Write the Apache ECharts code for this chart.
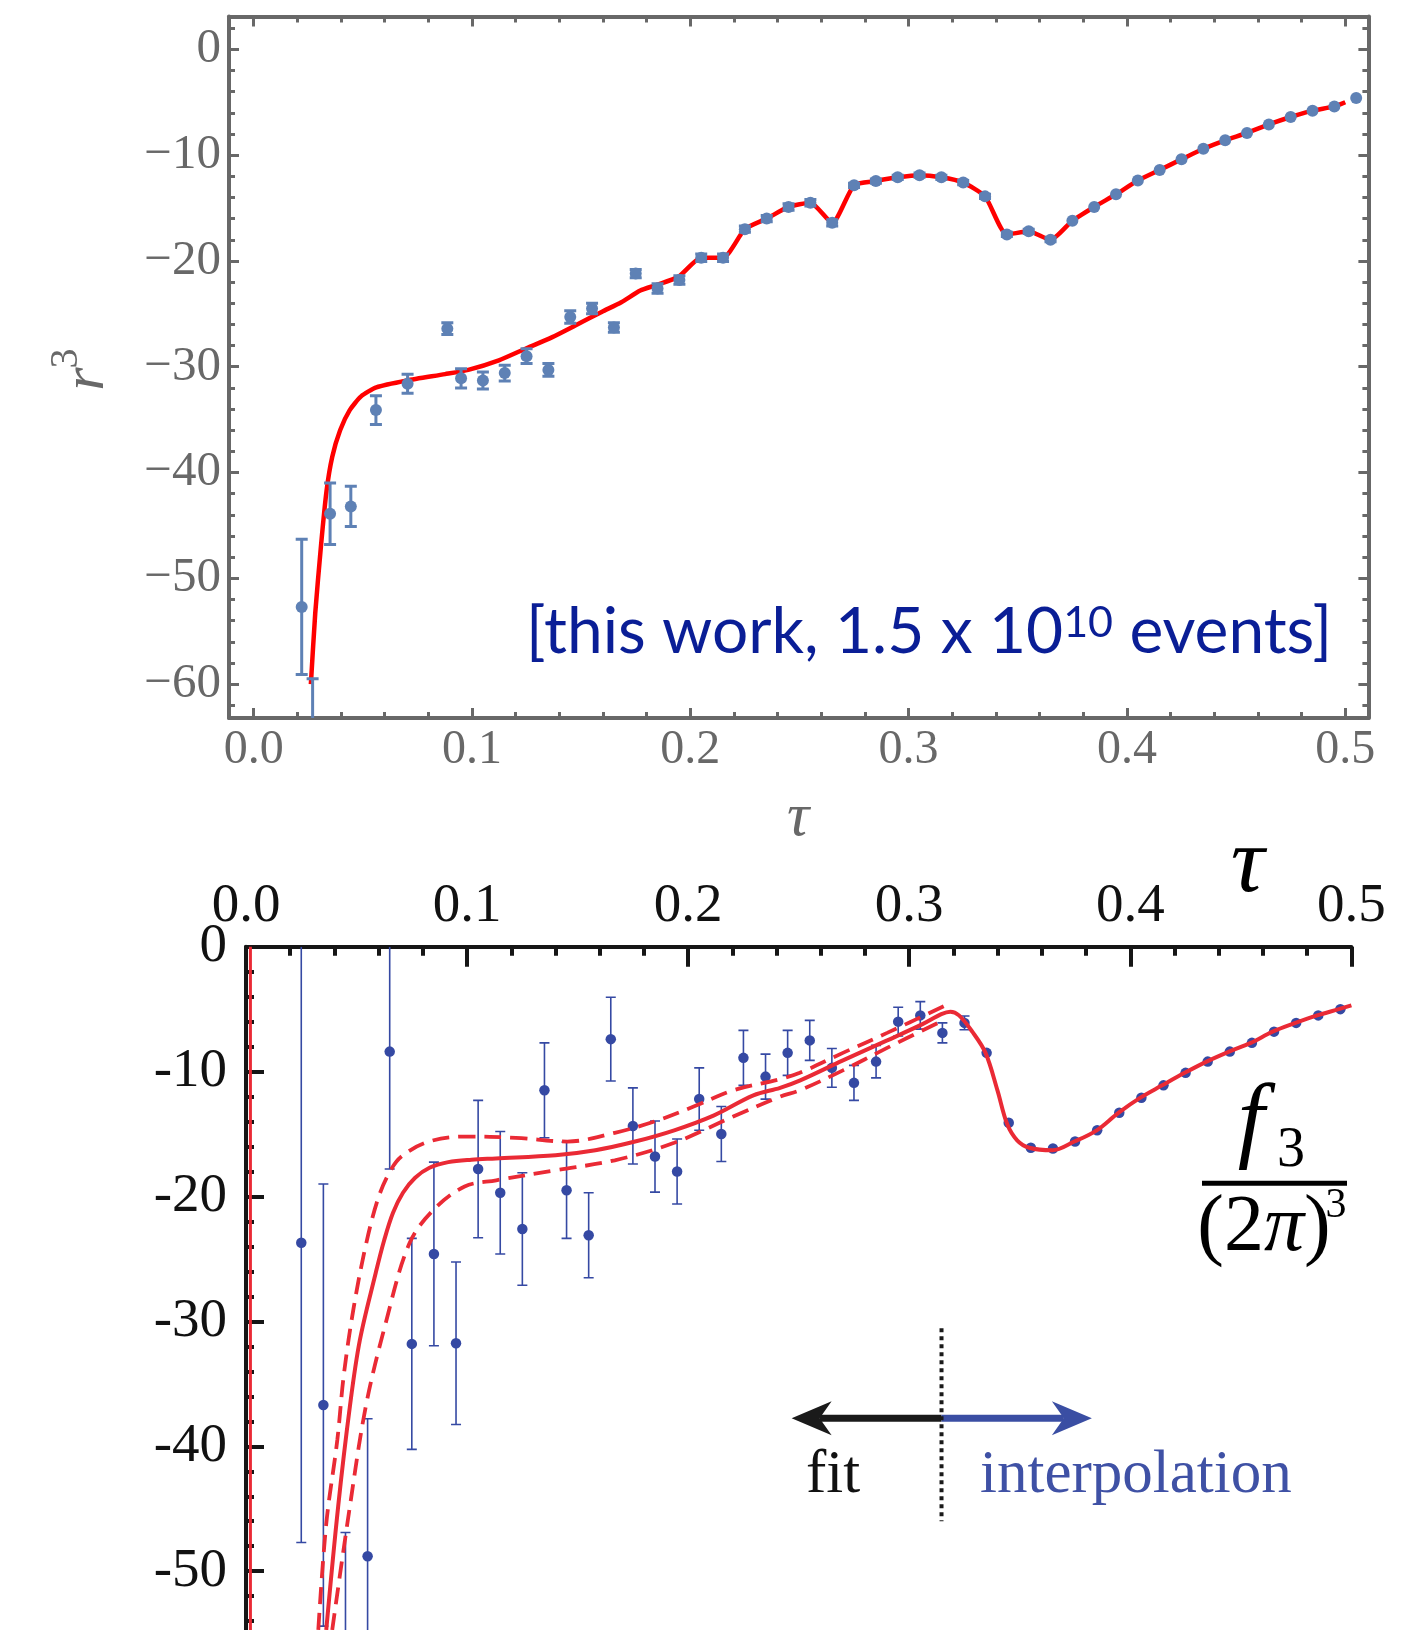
<!DOCTYPE html>
<html><head><meta charset="utf-8">
<script src="https://cdn.jsdelivr.net/npm/echarts@6/dist/echarts.min.js"></script>
<style>html,body{margin:0;padding:0;background:#fff}#c{width:1419px;height:1630px}</style>
</head><body><div id="c"></div>
<script>
// ---------- TOP PANEL DATA (r^3 vs tau) ----------
const topTau = [0.022, 0.027, 0.035, 0.0445, 0.056, 0.0705, 0.0887, 0.095, 0.105, 0.115, 0.125, 0.135, 0.145, 0.155, 0.165, 0.175, 0.185, 0.195, 0.205, 0.215, 0.225, 0.235, 0.245, 0.255, 0.265, 0.275, 0.285, 0.295, 0.305, 0.315, 0.325, 0.335, 0.345, 0.355, 0.365, 0.375, 0.385, 0.395, 0.405, 0.415, 0.425, 0.435, 0.445, 0.455, 0.465, 0.475, 0.485, 0.495, 0.505];
const topVal = [-52.7, -71, -43.9, -43.2, -34.1, -31.6, -26.4, -31.1, -31.3, -30.6, -29.0, -30.3, -25.3, -24.5, -26.3, -21.2, -22.6, -21.8, -19.7, -19.7, -17.0, -16.0, -14.9, -14.5, -16.4, -12.85, -12.45, -12.1, -11.9, -12.1, -12.6, -13.9, -17.5, -17.2, -18.0, -16.2, -14.9, -13.7, -12.4, -11.4, -10.4, -9.4, -8.6, -7.9, -7.1, -6.4, -5.8, -5.4, -4.6];
const topErr = [6.4, 11.5, 2.9, 1.9, 1.35, 0.9, 0.55, 0.9, 0.8, 0.75, 0.7, 0.6, 0.6, 0.5, 0.45, 0.4, 0.45, 0.4, 0.35, 0.35, 0.3, 0.3, 0.3, 0.3, 0.3, 0.2, 0.2, 0.2, 0.2, 0.2, 0.2, 0.2, 0.2, 0.2, 0.2, 0, 0, 0, 0, 0, 0, 0, 0, 0, 0, 0, 0, 0, 0];
const topFitTau = [0.0262, 0.0282, 0.0308, 0.0334, 0.036, 0.0396, 0.044, 0.0492, 0.0562, 0.0702, 0.0877, 0.0983, 0.1123, 0.1245, 0.1368, 0.1473, 0.1596, 0.1684, 0.1771, 0.1841, 0.1946, 0.205, 0.215, 0.225, 0.235, 0.245, 0.255, 0.265, 0.275, 0.285, 0.295, 0.305, 0.315, 0.325, 0.335, 0.345, 0.355, 0.365, 0.375, 0.385, 0.395, 0.405, 0.415, 0.425, 0.435, 0.445, 0.455, 0.465, 0.475, 0.485, 0.495, 0.500];
const topFitVal = [-60.0, -53.3, -47.0, -41.7, -38.5, -36.0, -34.1, -32.8, -31.95, -31.3, -30.7, -30.3, -29.4, -28.3, -27.2, -26.1, -24.8, -23.9, -22.8, -22.3, -21.5, -19.7, -19.7, -17.0, -16.0, -14.9, -14.5, -16.4, -12.85, -12.45, -12.1, -11.9, -12.1, -12.6, -13.9, -17.5, -17.2, -18.0, -16.2, -14.9, -13.7, -12.4, -11.4, -10.4, -9.4, -8.6, -7.9, -7.1, -6.4, -5.8, -5.4, -5.0];

// ---------- BOTTOM PANEL DATA (f3/(2pi)^3 vs tau) ----------
const botTau = [0.025, 0.035, 0.045, 0.055, 0.065, 0.075, 0.085, 0.095, 0.105, 0.115, 0.125, 0.135, 0.145, 0.155, 0.165, 0.175, 0.185, 0.195, 0.205, 0.215, 0.225, 0.235, 0.245, 0.255, 0.265, 0.275, 0.285, 0.295, 0.305, 0.315, 0.325, 0.335, 0.345, 0.355, 0.365, 0.375, 0.385, 0.395, 0.405, 0.415, 0.425, 0.435, 0.445, 0.455, 0.465, 0.475, 0.485, 0.495];
const botVal = [-23.7, -36.7, -58.0, -48.8, -8.4, -31.8, -24.6, -31.75, -17.8, -19.7, -22.6, -11.5, -19.5, -23.1, -7.4, -14.35, -16.8, -18.0, -12.2, -15.0, -8.9, -10.4, -8.5, -7.5, -9.7, -10.9, -9.2, -6.0, -5.5, -6.9, -6.1, -8.5, -14.1, -16.1, -16.15, -15.6, -14.7, -13.3, -12.1, -11.1, -10.1, -9.2, -8.4, -7.7, -6.8, -6.1, -5.5, -5.0];
const botErr = [24, 17.7, 11.1, 11.0, 9.4, 8.45, 7.35, 6.5, 5.5, 4.9, 4.5, 3.8, 3.85, 3.4, 3.35, 3.05, 2.85, 2.6, 2.5, 2.2, 2.2, 1.8, 1.8, 1.6, 1.55, 1.4, 1.3, 1.15, 1.1, 0.8, 0.55, 0, 0, 0, 0, 0, 0, 0, 0, 0, 0, 0, 0, 0, 0, 0, 0, 0];
const centralTau = [0.0363, 0.0417, 0.047, 0.0515, 0.0587, 0.0625, 0.0665, 0.071, 0.0765, 0.083, 0.0915, 0.102, 0.113, 0.140, 0.158, 0.176, 0.1937, 0.2117, 0.2295, 0.2416, 0.2507, 0.27, 0.29, 0.306, 0.3145, 0.3186, 0.3225, 0.3285, 0.3345, 0.3399, 0.3443, 0.3488, 0.3543, 0.3648, 0.3747, 0.3848, 0.3946, 0.4044, 0.4144, 0.4246, 0.4345, 0.4447, 0.4545, 0.4644, 0.4747, 0.4845, 0.4943, 0.5];
const centralVal = [-54.7, -44.8, -36.8, -31.5, -26.1, -23.5, -21.3, -19.7, -18.5, -17.7, -17.25, -17.05, -16.95, -16.7, -16.3, -15.6, -14.7, -13.5, -11.9, -11.3, -10.7, -9.1, -7.5, -6.2, -5.4, -5.2, -5.5, -6.8, -8.5, -11.5, -14.2, -15.5, -16.1, -16.3, -15.6, -14.7, -13.3, -12.1, -11.1, -10.1, -9.2, -8.4, -7.7, -6.8, -6.1, -5.5, -5.0, -4.7];
const upperTau = [0.0327, 0.0363, 0.0413, 0.0443, 0.0488, 0.0542, 0.0595, 0.0645, 0.0703, 0.0828, 0.0989, 0.1221, 0.1453, 0.1668, 0.1847, 0.2025, 0.2204, 0.2416, 0.2505, 0.27, 0.29, 0.3158];
const upperVal = [-54.7, -46.2, -39.5, -34.2, -28.8, -23.9, -20.3, -18.2, -16.8, -15.6, -15.2, -15.3, -15.6, -14.9, -14.0, -12.8, -11.5, -10.6, -10.1, -8.5, -6.9, -4.75];
const lowerTau = [0.039, 0.047, 0.0542, 0.0631, 0.0738, 0.0846, 0.0989, 0.1132, 0.14, 0.1668, 0.1937, 0.2204, 0.2416, 0.2505, 0.27, 0.29, 0.313];
const lowerVal = [-54.7, -44.8, -36.8, -30.2, -23.8, -21.1, -19.2, -18.7, -17.9, -17.1, -15.7, -13.6, -12.0, -11.5, -9.9, -8.1, -6.1];
// fit / interpolation divider (data units of the lower panel)
const dividerTau = 0.3146, dividerTop = -30.55, dividerBottom = -46.0;
const arrowVal = -37.76, fitArrowTau = 0.2468, interpArrowTau = 0.3826;

const zip = (a, b) => a.map((v, i) => [v, b[i]]);
const zip3 = (a, b, c) => a.map((v, i) => [v, b[i], c[i]]).filter(d => d[2] > 0);

const frameColor = '#686868';
const serif = 'Liberation Serif';
const ink = '#161616';
const topXMin = -0.0113, topXMax = 0.5106, topYMin = -63.2, topYMax = 3.1;

function fmtX(v) { const k = Math.round(v * 10); return Math.abs(v * 10 - k) < 1e-6 ? (k / 10).toFixed(1) : ''; }
function fmtY(v) { const k = Math.round(v / 10); if (Math.abs(v / 10 - k) > 1e-6) return ''; const n = k * 10; return n < 0 ? '\u2212' + Math.abs(n) : String(n); }

function tAxisX(pos, major, showLabel) {
  return {
    type: 'value', gridIndex: 0, position: pos, min: topXMin, max: topXMax,
    splitNumber: major ? 5 : 26, minInterval: major ? 0.1 : 0.02, maxInterval: major ? 0.1 : 0.02,
    axisLine: { show: major, onZero: false, lineStyle: { color: frameColor, width: 4 } },
    axisTick: { show: true, inside: true, length: major ? 10 : 6, lineStyle: { color: frameColor, width: 3 } },
    axisLabel: { show: showLabel, formatter: fmtX, margin: 8, fontFamily: serif, fontSize: 48, color: frameColor },
    splitLine: { show: false }
  };
}
function tAxisY(pos, major, showLabel) {
  return {
    type: 'value', gridIndex: 0, position: pos, min: topYMin, max: topYMax,
    splitNumber: major ? 6 : 33, minInterval: major ? 10 : 2, maxInterval: major ? 10 : 2,
    axisLine: { show: major, onZero: false, lineStyle: { color: frameColor, width: 4 } },
    axisTick: { show: true, inside: true, length: major ? 10 : 6, lineStyle: { color: frameColor, width: 3 } },
    axisLabel: { show: showLabel, formatter: fmtY, margin: 8, fontFamily: serif, fontSize: 49, color: frameColor },
    splitLine: { show: false }
  };
}
function bAxisX(major) {
  return {
    type: 'value', gridIndex: 1, position: 'top', min: 0, max: 0.5, interval: major ? 0.1 : 0.02,
    axisLine: { show: major, onZero: false, lineStyle: { color: ink, width: 4 } },
    axisTick: { show: true, inside: true, length: major ? 20 : 9, lineStyle: { color: ink, width: 4 } },
    axisLabel: { show: major, formatter: v => v.toFixed(1), margin: 13, fontFamily: serif, fontSize: 55, color: '#111' },
    splitLine: { show: false }
  };
}
function bAxisY(major) {
  return {
    type: 'value', gridIndex: 1, position: 'left', min: -60, max: 0, interval: major ? 10 : 2,
    axisLine: { show: major, onZero: false, lineStyle: { color: ink, width: 4 } },
    axisTick: { show: true, inside: true, length: major ? 18 : 8, lineStyle: { color: ink, width: 4 } },
    axisLabel: { show: major, formatter: v => String(v), margin: 19, fontFamily: serif, fontSize: 55, color: '#111' },
    splitLine: { show: false }
  };
}

function errRender(color, lw, halfCap) {
  return function (params, api) {
    const x = api.value(0), y = api.value(1), e = api.value(2);
    const top = api.coord([x, y + e]);
    const bot = api.coord([x, y - e]);
    const cs = params.coordSys;
    const y0 = Math.max(top[1], cs.y), y1 = Math.min(bot[1], cs.y + cs.height);
    if (y1 <= y0) return null;
    const st = { stroke: color, lineWidth: lw };
    const ch = [{ type: 'line', shape: { x1: top[0], y1: y0, x2: top[0], y2: y1 }, style: st }];
    if (top[1] >= cs.y) ch.push({ type: 'line', shape: { x1: top[0] - halfCap, y1: top[1], x2: top[0] + halfCap, y2: top[1] }, style: st });
    if (bot[1] <= cs.y + cs.height) ch.push({ type: 'line', shape: { x1: bot[0] - halfCap, y1: bot[1], x2: bot[0] + halfCap, y2: bot[1] }, style: st });
    return { type: 'group', children: ch };
  };
}

function annotRender(params, api) {
  const t = api.coord([dividerTau, dividerTop]);
  const b = api.coord([dividerTau, dividerBottom]);
  const m = api.coord([dividerTau, arrowVal]);
  const l = api.coord([fitArrowTau, arrowVal]);
  const r = api.coord([interpArrowTau, arrowVal]);
  const y = m[1];
  const black = '#1a1a1a', blue = '#3a4ea3';
  return {
    type: 'group', children: [
      { type: 'line', shape: { x1: l[0] + 28, y1: y, x2: m[0], y2: y }, style: { stroke: black, lineWidth: 7 } },
      { type: 'polygon', shape: { points: [[l[0], y], [l[0] + 40, y - 17], [l[0] + 28, y], [l[0] + 40, y + 17]] }, style: { fill: black } },
      { type: 'line', shape: { x1: m[0], y1: y, x2: r[0] - 28, y2: y }, style: { stroke: blue, lineWidth: 7 } },
      { type: 'polygon', shape: { points: [[r[0], y], [r[0] - 40, y - 17], [r[0] - 28, y], [r[0] - 40, y + 17]] }, style: { fill: blue } },
      { type: 'line', shape: { x1: t[0], y1: t[1], x2: b[0], y2: b[1] }, style: { stroke: black, lineWidth: 4, lineDash: [4, 4] } }
    ]
  };
}

const botRed = '#ea2a35', botBlue = '#3549a3';

const option = {
  animation: false,
  backgroundColor: '#fff',
  grid: [
    { left: 229, top: 16.5, width: 1139.4, height: 701.5, containLabel: false, outerBoundsMode: 'none' },
    { left: 246, top: 946.7, width: 1105.4, height: 749.4, containLabel: false, outerBoundsMode: 'none' }
  ],
  xAxis: [
    tAxisX('bottom', true, true), tAxisX('bottom', false, false),
    tAxisX('top', true, false), tAxisX('top', false, false),
    bAxisX(true), bAxisX(false)
  ],
  yAxis: [
    tAxisY('left', true, true), tAxisY('left', false, false),
    tAxisY('right', true, false), tAxisY('right', false, false),
    bAxisY(true), bAxisY(false)
  ],
  series: [
    // top panel
    { type: 'line', xAxisIndex: 0, yAxisIndex: 0, data: zip(topFitTau, topFitVal), showSymbol: false, smooth: 0.2,
      lineStyle: { color: '#ff0000', width: 4.5 }, z: 2, clip: true },
    { type: 'custom', xAxisIndex: 0, yAxisIndex: 0, data: zip3(topTau, topVal, topErr), renderItem: errRender('#5E81B5', 3, 6), z: 3, clip: true },
    { type: 'scatter', xAxisIndex: 0, yAxisIndex: 0, data: zip(topTau, topVal), symbolSize: 12, itemStyle: { color: '#5E81B5', opacity: 1 }, z: 4, clip: true },
    // bottom panel
    { type: 'line', xAxisIndex: 4, yAxisIndex: 4, data: [[0.002, 0], [0.002, -60]], showSymbol: false, lineStyle: { color: botRed, width: 3 }, z: 2 },
    { type: 'custom', xAxisIndex: 4, yAxisIndex: 4, data: zip3(botTau, botVal, botErr), renderItem: errRender(botBlue, 1.6, 5), z: 2, clip: true },
    { type: 'scatter', xAxisIndex: 4, yAxisIndex: 4, data: zip(botTau, botVal), symbolSize: 10.5, itemStyle: { color: botBlue, opacity: 1 }, z: 3, clip: true },
    { type: 'line', xAxisIndex: 4, yAxisIndex: 4, data: zip(upperTau, upperVal), showSymbol: false, smooth: 0.35,
      lineStyle: { color: botRed, width: 3.8, type: [17, 9] }, z: 4, clip: true },
    { type: 'line', xAxisIndex: 4, yAxisIndex: 4, data: zip(lowerTau, lowerVal), showSymbol: false, smooth: 0.35,
      lineStyle: { color: botRed, width: 3.8, type: [17, 9] }, z: 4, clip: true },
    { type: 'line', xAxisIndex: 4, yAxisIndex: 4, data: zip(centralTau, centralVal), showSymbol: false, smooth: 0.35,
      lineStyle: { color: botRed, width: 4 }, z: 5, clip: true },
    { type: 'custom', xAxisIndex: 4, yAxisIndex: 4, data: [[dividerTau, arrowVal]], renderItem: annotRender, z: 6 }
  ],
  graphic: [
    { type: 'text', x: 1332, y: 632.7, style: {
        text: '{m|[this work, 1.5 x 10}{s|10}{m| events]}', align: 'right', verticalAlign: 'middle',
        rich: { m: { fontFamily: 'Lato', fontSize: 64, lineHeight: 72, fill: '#0a1e96' },
                s: { fontFamily: 'Lato', fontSize: 43, lineHeight: 56, verticalAlign: 'top', padding: [5, 0, 0, 0], fill: '#0a1e96' } } } },
    { type: 'text', x: 87, y: 379, rotation: Math.PI / 2, style: { text: 'r', fontFamily: serif, fontStyle: 'italic', fontSize: 60, fill: frameColor, align: 'center', verticalAlign: 'middle' } },
    { type: 'text', x: 66.5, y: 358.5, rotation: Math.PI / 2, style: { text: '3', fontFamily: serif, fontSize: 40, fill: frameColor, align: 'center', verticalAlign: 'middle' } },
    { type: 'text', x: 798, y: 819, style: { text: '\u03c4', fontFamily: serif, fontStyle: 'italic', fontSize: 62, fill: frameColor, align: 'center', verticalAlign: 'middle' } },
    { type: 'text', x: 1247.5, y: 866, style: { text: '\u03c4', fontFamily: serif, fontStyle: 'italic', fontSize: 94, fill: '#000', align: 'center', verticalAlign: 'middle' } },
    { type: 'text', x: 1251, y: 1125, style: { text: 'f', fontFamily: serif, fontStyle: 'italic', fontSize: 96, fill: '#000', align: 'center', verticalAlign: 'middle' } },
    { type: 'text', x: 1291, y: 1151, style: { text: '3', fontFamily: serif, fontSize: 56, fill: '#000', align: 'center', verticalAlign: 'middle' } },
    { type: 'line', shape: { x1: 1202, y1: 1183.3, x2: 1347, y2: 1183.3 }, style: { stroke: '#000', lineWidth: 5 } },
    { type: 'text', x: 1264, y: 1228.7, style: { text: '{n|(2}{p|\u03c0}{n|)}', align: 'center', verticalAlign: 'middle',
        rich: { n: { fontFamily: serif, fontSize: 80, fill: '#000' }, p: { fontFamily: serif, fontStyle: 'italic', fontSize: 80, fill: '#000' } } } },
    { type: 'text', x: 1336, y: 1206, style: { text: '3', fontFamily: serif, fontSize: 42, fill: '#000', align: 'center', verticalAlign: 'middle' } },
    { type: 'text', x: 833, y: 1476, style: { text: 'fit', fontFamily: serif, fontSize: 61, fill: '#111', align: 'center', verticalAlign: 'middle' } },
    { type: 'text', x: 980, y: 1476, style: { text: 'interpolation', fontFamily: serif, fontSize: 61, fill: '#3f51a5', align: 'left', verticalAlign: 'middle' } }
  ]
};

const chart = echarts.init(document.getElementById('c'), null, { renderer: 'canvas' });
chart.setOption(option);
</script></body></html>
